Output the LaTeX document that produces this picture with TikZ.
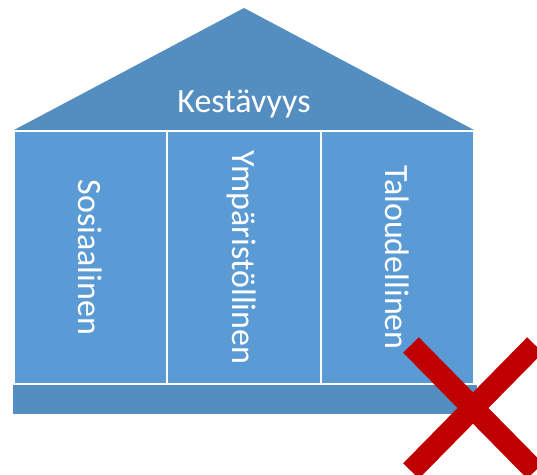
\documentclass[tikz,border=0pt]{standalone}
\usepackage{fontspec}
\setmainfont{Carlito}
\usepackage{xcolor}
\usepackage{tikz}

\definecolor{roofblue}{RGB}{84,141,192}
\definecolor{pillarblue}{RGB}{91,155,213}
\definecolor{crossred}{RGB}{192,0,0}

\tikzset{
    pillar/.style={rectangle, fill=pillarblue, draw=white, line width=1.5pt,
        rotate=-90, minimum width=253pt, minimum height=153pt,
        text height=24pt, text depth=0pt, inner sep=0pt, text=white,
        font=\fontsize{34}{40}\selectfont},
    crossbar/.style={draw=crossred, line width=22pt}
}

\begin{document}
\begin{tikzpicture}[x=1pt, y=-1pt]
        % Canvas
        \useasboundingbox (0,0) rectangle (537,474);
        \clip (0,0) rectangle (537,474);

        % Roof
        \coordinate (eaveL) at (14,130);
        \coordinate (eaveR) at (474,130);
        \coordinate (apex) at (244,8);
        \fill[roofblue] (eaveL) -- (apex) -- (eaveR) -- cycle;
        \node[anchor=base, text=white, font=\fontsize{34}{40}\selectfont] (title) at (244,112) {Kestävyys};

        % Pillars
        \node[pillar] (sos) at (90.5,257.5) {Sosiaalinen};
        \node[pillar] (ymp) at (244,257.5) {Ympäristöllinen};
        \node[pillar] (tal) at (397.5,257.5) {Taloudellinen};

        % Base
        \node[rectangle, fill=roofblue, minimum width=464pt, minimum height=29pt, inner sep=0pt] (base) at (245,399.5) {};

        % Cross
        \coordinate (xTL) at (411,345);
        \coordinate (xTR) at (535,345);
        \coordinate (xBL) at (411,471);
        \coordinate (xBR) at (535,471);
        \draw[crossbar] (xTL) -- (xBR);
        \draw[crossbar] (xTR) -- (xBL);
    \end{tikzpicture}
\end{document}
